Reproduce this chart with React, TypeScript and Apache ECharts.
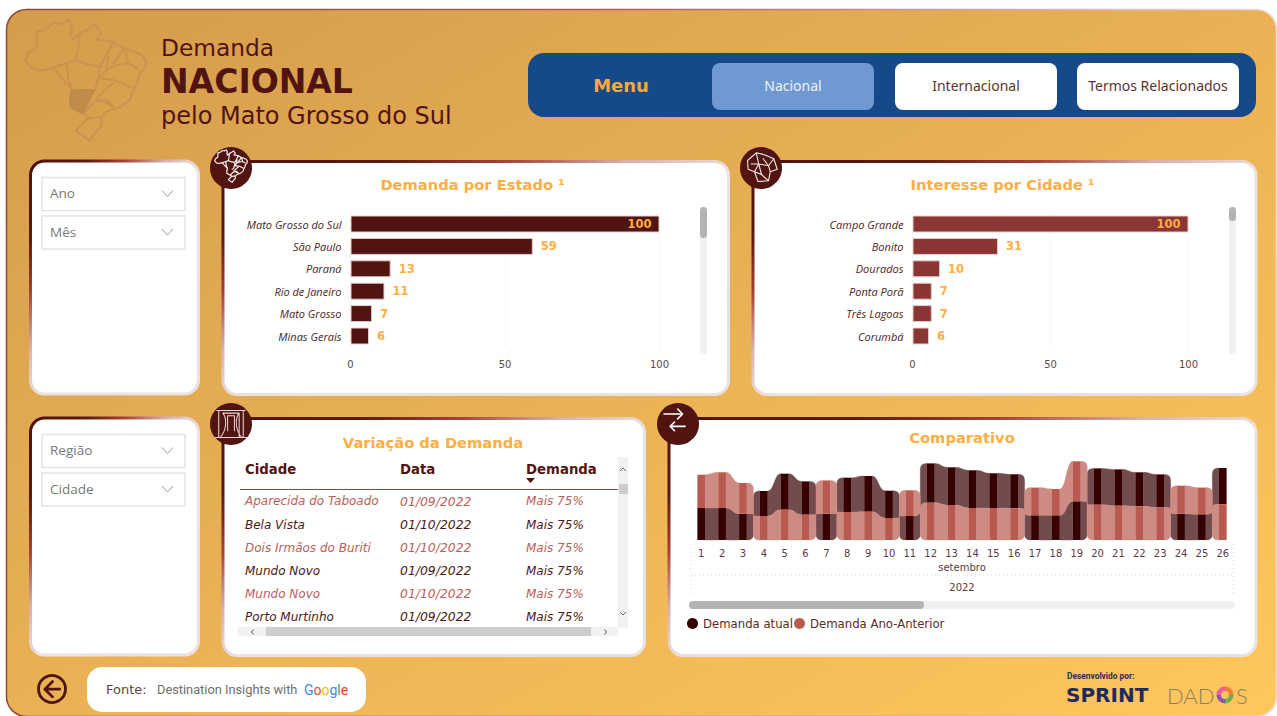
import React, { useEffect, useRef } from "react";
import * as echarts from "echarts";

const estados = ["Mato Grosso do Sul", "São Paulo", "Paraná", "Rio de Janeiro", "Mato Grosso", "Minas Gerais"];
const demandaEstado = [100, 59, 13, 11, 7, 6];
const cidades = ["Campo Grande", "Bonito", "Dourados", "Ponta Porã", "Três Lagoas", "Corumbá"];
const interesseCidade = [100, 31, 10, 7, 7, 6];

const dias = ["1","2","3","4","5","6","7","8","9","10","11","12","13","14","15","16","17","18","19","20","21","22","23","24","25","26"];
const demandaAtual = [32,32,26.3,25,36,33.3,26.3,34.3,35.7,27.3,24,39.3,37.7,37.7,34.7,34,24.7,24.7,38.7,36.3,36.3,34,33,26.3,25.7,36.3];
const demandaAnterior = [33.3,35.7,30.7,24,30.3,25.3,33.3,28,28.3,22,25.7,37.3,35,32,32,31.7,27.7,26.3,40,35.3,34.3,33.7,32.6,28,26.7,35.7];

const tabelaCidade = ["Aparecida do Taboado", "Bela Vista", "Dois Irmãos do Buriti", "Mundo Novo", "Mundo Novo", "Porto Murtinho"];
const tabelaData = ["01/09/2022", "01/10/2022", "01/10/2022", "01/09/2022", "01/10/2022", "01/09/2022"];
const tabelaDemanda = ["Mais 75%", "Mais 75%", "Mais 75%", "Mais 75%", "Mais 75%", "Mais 75%"];

const DARK = "#521410";
const ORANGE = "#ffae42";
const SANS = "DejaVu Sans";
const UI = "Open Sans";

const D_BRASIL =
  "M110 95L130 92L145 80L165 68L185 72L205 60L217 85L210 105L220 118L240 100L265 88L285 72L305 100L290 118L320 122L345 128L370 145L395 150L425 165L440 185L435 205L418 225L412 250L400 270L390 300L360 322L320 335L305 352L305 378L285 400L270 422L228 392L255 365L265 350L245 340L212 322L210 295L218 270L195 245L170 215L150 205L120 212L95 205L75 180L85 160L110 140L112 115Z" +
  "M240 100L235 140L228 180L265 195L300 200L318 165L340 128M228 180L200 190L155 205M200 190L205 235L218 268M300 200L295 235L285 270L270 275M325 170L318 210L300 235L340 240L370 250L390 262M318 210L350 195L385 190L412 205M340 190L375 145L385 190M340 250L320 265L290 295L340 320M250 340L285 305L320 300L340 320M255 360L300 350";
const D_MS = "M215 272L240 268L285 270L270 300L250 340L212 322L210 295Z";
const D_ESTADO =
  "M10 30L35 8L60 14L85 25L95 55L75 62L70 88L40 90L30 62L12 55ZM35 8L42 40L30 62M42 40L70 45L85 25M70 45L75 62M42 40L50 70L70 88M20 40L42 40M55 25L70 45M50 70L30 62";
const D_PORTAL =
  "M8 10H92M14 10V90M86 10V90M26 18H74V90M26 18C40 35 36 70 18 90M74 18C60 35 64 70 82 90M40 26V70M60 26V70M40 26H60M4 90H96";
const D_SETAS = "M0 8H30M22 0L30 8L22 16M34 28H10M17 21L10 28L17 35";
const D_VOLTAR = "M21 0L7 14L21 28M7 14H34";

echarts.graphic.registerShape("brasilMapa", echarts.graphic.extendPath(D_BRASIL, {}));
echarts.graphic.registerShape("msMapa", echarts.graphic.extendPath(D_MS, {}));
echarts.graphic.registerShape("estadoMapa", echarts.graphic.extendPath(D_ESTADO, {}));
echarts.graphic.registerShape("portalIcone", echarts.graphic.extendPath(D_PORTAL, {}));
echarts.graphic.registerShape("setasIcone", echarts.graphic.extendPath(D_SETAS, {}));
echarts.graphic.registerShape("voltarIcone", echarts.graphic.extendPath(D_VOLTAR, {}));

const cardStroke = {
  type: "linear", x: 0, y: 0, x2: 1, y2: 1,
  colorStops: [
    { offset: 0, color: "#4f120e" },
    { offset: 0.16, color: "#5a1a14" },
    { offset: 0.28, color: "#a5403c" },
    { offset: 0.4, color: "#d9b0ae" },
    { offset: 0.52, color: "#ece2e2" },
    { offset: 1, color: "#e8e2e2" },
  ],
};

function buildGraphics() {
  const els: any[] = [];
  let order = 0;
  const push = (e: any) => els.push({ silent: true, z: 0, z2: order++, ...e });
  const rect = (x: number, y: number, w: number, h: number, r: number, fill: any, stroke?: any, lineWidth = 0) =>
    push({ type: "rect", shape: { x, y, width: w, height: h, r }, style: { fill, stroke, lineWidth } });
  const text = (x: number, y: number, t: string, fontSize: number, fill: string, o: any = {}) =>
    push({
      type: "text",
      style: {
        x, y, text: t, fill, fontSize,
        fontFamily: o.family || SANS,
        fontWeight: o.weight || "normal",
        fontStyle: o.style || "normal",
        align: o.align || "left",
        verticalAlign: "middle",
      },
    });
  const poly = (points: number[][], stroke: string, lineWidth = 1) =>
    push({ type: "polyline", shape: { points }, style: { stroke, lineWidth, fill: "none" } });
  const line = (x1: number, y1: number, x2: number, y2: number, stroke: string, lineWidth = 1, lineDash?: number[]) =>
    push({ type: "line", shape: { x1, y1, x2, y2 }, style: { stroke, lineWidth, lineDash } });
  const shape = (type: string, x: number, y: number, s: number, style: any) =>
    push({ type, x, y, scaleX: s, scaleY: s, style: { lineJoin: "round", lineCap: "round", ...style } });

  // main panel
  rect(6.5, 9.5, 1270, 707, 20,
    { type: "linear", x: 0, y: 0, x2: 1, y2: 1, colorStops: [{ offset: 0, color: "#d49c4c" }, { offset: 1, color: "#ffc75c" }] },
    { type: "linear", x: 0, y: 0, x2: 1, y2: 0, colorStops: [{ offset: 0, color: "#8c4a3a" }, { offset: 0.5, color: "#b5605a" }, { offset: 1, color: "#f0dcdc" }] },
    1.5);

  // header
  shape("brasilMapa", 0, 0, 1 / 3, { fill: "none", stroke: "#c8944f", lineWidth: 6.5 });
  shape("msMapa", 0, 0, 1 / 3, { fill: "#c08a48", stroke: "#c08a48", lineWidth: 3 });
  text(161, 47, "Demanda", 23.3, DARK);
  text(161, 81.5, "NACIONAL", 33, DARK, { weight: "bold" });
  text(161, 116, "pelo Mato Grosso do Sul", 24, DARK);

  // menu
  rect(528, 53, 728, 64, 16, "#15498a");
  text(621, 85.5, "Menu", 18, "#f9a83b", { weight: "bold", align: "center" });
  rect(712, 63, 162, 47, 8, "#6f99d2");
  rect(895, 63, 162, 47, 8, "#ffffff");
  rect(1077, 63, 162, 47, 8, "#ffffff");
  text(793, 85.5, "Nacional", 14, "#eef3fb", { family: "Noto Sans", align: "center" });
  text(976, 85.5, "Internacional", 14, "#5b3430", { family: "Noto Sans", align: "center" });
  text(1158, 85.5, "Termos Relacionados", 14, "#5b3430", { family: "Noto Sans", align: "center" });

  // filter cards and slicers
  const slicer = (y: number, label: string) => {
    rect(42, y, 143, 33, 0, "#ffffff", "#e4e4e4", 1.5);
    text(50, y + 15.5, label, 13.5, "#777777", { family: UI });
    poly([[162, y + 13], [167.5, y + 19], [173, y + 13]], "#9a9a9a", 1);
  };
  rect(30.5, 161, 168, 233, 14, "#ffffff", cardStroke, 3);
  slicer(177.5, "Ano");
  slicer(216, "Mês");
  rect(30.5, 418, 168, 237, 14, "#ffffff", cardStroke, 3);
  slicer(434.5, "Região");
  slicer(473, "Cidade");

  // chart cards
  rect(223, 161.5, 505.5, 233, 14, "#ffffff", cardStroke, 3);
  rect(753, 161.5, 503, 233, 14, "#ffffff", cardStroke, 3);
  rect(223, 418.5, 421.5, 237, 14, "#ffffff", cardStroke, 3);
  rect(669, 418.5, 587, 237, 14, "#ffffff", cardStroke, 3);

  // icons
  const disc = (cx: number, cy: number) =>
    push({ type: "circle", shape: { cx, cy, r: 21 }, style: { fill: DARK } });
  disc(231, 168);
  shape("brasilMapa", 231 - 257 * 0.09, 166 - 240 * 0.09, 0.09, { fill: "none", stroke: "#f7efee", lineWidth: 13 });
  disc(761, 168);
  shape("estadoMapa", 744, 150, 0.35, { fill: "none", stroke: "#f7efee", lineWidth: 3 });
  disc(231, 424);
  shape("portalIcone", 214, 407, 0.34, { fill: "none", stroke: "#e8d8d6", lineWidth: 3 });
  disc(678, 424);
  shape("setasIcone", 664, 409, 0.62, { fill: "none", stroke: "#ffffff", lineWidth: 2.6 });

  // titles
  text(472.5, 184.5, "Demanda por Estado ¹", 14.7, ORANGE, { weight: "bold", align: "center" });
  text(1002.5, 184.5, "Interesse por Cidade ¹", 14.7, ORANGE, { weight: "bold", align: "center" });
  text(433, 442.5, "Variação da Demanda", 14.7, ORANGE, { weight: "bold", align: "center" });
  text(962, 437.5, "Comparativo", 14.7, ORANGE, { weight: "bold", align: "center" });

  // vertical scrollbars of the bar visuals
  rect(700, 207, 7, 147, 3.5, "#f0f0f0");
  rect(700, 207, 7, 31, 3.5, "#b3b3b3");
  rect(1229, 207, 7, 147, 3.5, "#f0f0f0");
  rect(1229, 207, 7, 14, 3.5, "#b3b3b3");

  // table
  const cols = [245, 400, 526];
  ["Cidade", "Data", "Demanda"].forEach((h, i) => text(cols[i], 469, h, 13.3, DARK, { weight: "bold" }));
  push({ type: "polygon", shape: { points: [[526, 478], [535, 478], [530.5, 483]] }, style: { fill: DARK } });
  line(240, 489.5, 618, 489.5, "#7b4a47", 1);
  const rowY = [501, 524.5, 547.5, 570.5, 593.5, 616.5];
  rowY.forEach((y, i) => {
    const c = i % 2 === 0 ? "#b9605a" : "#4a1a18";
    text(cols[0], y, tabelaCidade[i], 12, c, { style: "italic" });
    text(cols[1], y, tabelaData[i], 12.4, c, { style: "italic" });
    text(cols[2], y, tabelaDemanda[i], 12, c, { style: "italic" });
  });
  rect(618, 457, 10, 171, 0, "#f1f1f1");
  rect(619, 484, 9, 10, 0, "#cdcdcd");
  poly([[620, 471], [623, 468], [626, 471]], "#666666", 1);
  poly([[620, 612], [623, 615], [626, 612]], "#666666", 1);
  rect(238, 627, 380, 9, 0, "#f1f1f1");
  rect(266, 627, 325, 9, 0, "#cdcdcd");
  poly([[254, 629.5], [251, 632], [254, 634.5]], "#666666", 1);
  poly([[604, 629.5], [607, 632], [604, 634.5]], "#666666", 1);

  // ribbon hierarchy decorations
  const dot = [1, 3];
  line(691, 544, 691, 594, "#d6d6d6", 1, dot);
  line(1233, 544, 1233, 594, "#d6d6d6", 1, dot);
  line(691, 575, 1233, 575, "#d6d6d6", 1, dot);
  text(962, 567, "setembro", 10, "#5b3a3a", { align: "center" });
  text(962, 587, "2022", 10, "#5b3a3a", { align: "center" });
  rect(689, 601, 546, 8, 4, "#f0f0f0");
  rect(689, 601, 235, 8, 4, "#b3b3b3");

  // footer
  push({ type: "circle", shape: { cx: 52, cy: 689, r: 13.5 }, style: { fill: "none", stroke: DARK, lineWidth: 2.8 } });
  shape("voltarIcone", 41, 681.5, 0.55, { fill: "none", stroke: DARK, lineWidth: 5 });
  rect(87, 667, 279, 45, 15, "#ffffff");
  text(106, 689, "Fonte:", 13, "#6b3c3a");
  text(157, 689, "Destination Insights with", 12.8, "#6e6e6e", { family: "Roboto" });
  push({
    type: "text",
    style: {
      x: 304, y: 690, verticalAlign: "middle", align: "left",
      fontFamily: "Roboto", fontSize: 14,
      text: "{a|G}{b|o}{c|o}{a|g}{d|l}{b|e}",
      rich: {
        a: { fill: "#4285f4", fontFamily: "Roboto", fontSize: 14 },
        b: { fill: "#ea4335", fontFamily: "Roboto", fontSize: 14 },
        c: { fill: "#fbbc05", fontFamily: "Roboto", fontSize: 14 },
        d: { fill: "#34a853", fontFamily: "Roboto", fontSize: 14 },
      },
    },
  });
  text(1067, 676, "Desenvolvido por:", 8.4, "#2a2f5e", { family: "Roboto", weight: "bold" });
  text(1066, 695, "SPRINT", 20, "#1f2a5e", { weight: "bold" });
  text(1167, 695, "DAD", 22, "#8f7f60", { family: "Lato", weight: 300 });
  text(1236, 695, "S", 22, "#8f7f60", { family: "Lato", weight: 300 });
  const seg = ["#ef5aa0", "#f08030", "#6ab04c", "#8e54b8"];
  seg.forEach((c, i) =>
    push({
      type: "sector",
      shape: { cx: 1225, cy: 695, r: 8.5, r0: 4, startAngle: (i * Math.PI) / 2 + Math.PI, endAngle: ((i + 1) * Math.PI) / 2 + Math.PI },
      style: { fill: c },
    })
  );
  return els;
}

function barItem(v: number) {
  return { value: v, label: { position: v >= 100 ? "insideRight" : "right", distance: 8 } };
}

function barParts(gridIndex: number, names: string[], values: number[], color: string) {
  const xAxis = {
    type: "value", gridIndex, min: 0, max: 100, interval: 50, z: 1,
    axisLine: { show: false }, axisTick: { show: false },
    axisLabel: { color: "#5a4a4a", fontFamily: SANS, fontSize: 10, margin: 12 },
    splitLine: { show: true, lineStyle: { color: "#dddddd", type: [1, 3] } },
  };
  const yAxis = {
    type: "category", gridIndex, inverse: true, data: names, z: 1,
    axisLine: { show: false }, axisTick: { show: false },
    axisLabel: { color: "#4a2422", fontFamily: UI, fontStyle: "italic", fontSize: 11, margin: 9 },
  };
  const series = {
    type: "bar", xAxisIndex: gridIndex, yAxisIndex: gridIndex,
    barWidth: 17,
    data: values.map(barItem),
    itemStyle: { color, borderColor: "#e3cfcd", borderWidth: 1 },
    label: { show: true, color: ORANGE, fontFamily: SANS, fontWeight: "bold", fontSize: 11.5 },
  };
  return { xAxis, yAxis, series };
}

// half of a crossing ribbon's edge: along the level y from x to the waist column, then to the waist
function edgeTo(x: number, y: number, xm: number, yw: number) {
  const d = yw - y;
  const r = Math.min(6, Math.abs(d), Math.abs(xm - x));
  const s = d >= 0 ? 1 : -1;
  const hx = xm >= x ? 1 : -1;
  return `L${xm - hx * r} ${y}Q${xm} ${y} ${xm} ${y + s * r}L${xm} ${yw}`;
}
function edgeFrom(xm: number, yw: number, x: number, y: number) {
  const d = yw - y;
  const r = Math.min(6, Math.abs(d), Math.abs(xm - x));
  const s = d >= 0 ? 1 : -1;
  const hx = xm >= x ? 1 : -1;
  return `L${xm} ${y + s * r}Q${xm} ${y} ${xm - hx * r} ${y}L${x} ${y}`;
}

// ribbon path between two consecutive days
function ribbonPath(x1: number, x2: number, t1: number, b1: number, t2: number, b2: number, ym: number, cross: boolean) {
  const xm = (x1 + x2) / 2;
  if (!cross) {
    return `M${x1} ${t1}C${xm} ${t1} ${xm} ${t2} ${x2} ${t2}L${x2} ${b2}C${xm} ${b2} ${xm} ${b1} ${x1} ${b1}Z`;
  }
  const w = 0.7;
  return (
    `M${x1} ${t1}` + edgeTo(x1, t1, xm, ym - w) + edgeFrom(xm, ym - w, x2, t2) +
    `L${x2} ${b2}` + edgeTo(x2, b2, xm, ym + w) + edgeFrom(xm, ym + w, x1, b1) + "Z"
  );
}

function ribbonSeries(name: string, own: number[], other: number[], barColor: string, ribbonColor: string) {
  return {
    type: "custom", name, xAxisIndex: 2, yAxisIndex: 2,
    itemStyle: { color: barColor },
    data: own.map((v, i) => [i, v]),
    encode: { x: 0, y: 1 },
    clip: false,
    renderItem: (params: any, api: any) => {
      const i = params.dataIndex;
      const band = api.size([1, 0])[0];
      const bw = band * 0.37;
      const span = (k: number) => {
        const lower = own[k] < other[k];
        const bottomVal = lower ? 0 : other[k];
        const topVal = bottomVal + own[k];
        const cx = api.coord([k, 0])[0];
        return { lower, cx, t: api.coord([k, topVal])[1], b: api.coord([k, bottomVal])[1], mid: api.coord([k, Math.min(own[k], other[k])])[1] };
      };
      const a = span(i);
      const children: any[] = [
        { type: "rect", z2: 3, shape: { x: a.cx - bw / 2, y: a.t, width: bw, height: a.b - a.t }, style: { fill: barColor } },
      ];
      if (i < own.length - 1) {
        const c = span(i + 1);
        const d = ribbonPath(a.cx + bw / 2, c.cx - bw / 2, a.t, a.b, c.t, c.b, (a.mid + c.mid) / 2, a.lower !== c.lower);
        children.unshift({ type: "path", z2: 1, shape: { pathData: d }, style: { fill: ribbonColor, stroke: ribbonColor, lineWidth: 0.4 } });
      }
      return { type: "group", children };
    },
  };
}

export default function App() {
  const ref = useRef<HTMLDivElement>(null);
  useEffect(() => {
    document.body.style.margin = "0";
    const chart = echarts.init(ref.current!, undefined, { renderer: "svg" });
    const a = barParts(0, estados, demandaEstado, DARK);
    const b = barParts(1, cidades, interesseCidade, "#8b3535");
    chart.setOption({
      animation: false,
      graphic: { elements: buildGraphics() },
      grid: [
        { left: 350.5, top: 212.8, width: 309, height: 134.4 },
        { left: 912.5, top: 212.8, width: 276, height: 134.4 },
        { left: 690.8, top: 460, width: 542.4, height: 80 },
      ],
      xAxis: [
        a.xAxis,
        b.xAxis,
        {
          type: "category", gridIndex: 2, data: dias, z: 1,
          axisLine: { show: false }, axisTick: { show: false },
          axisLabel: { color: "#5b3a4a", fontFamily: SANS, fontSize: 10, margin: 8, interval: 0 },
        },
      ],
      yAxis: [
        a.yAxis,
        b.yAxis,
        { type: "value", gridIndex: 2, min: 0, max: 80, show: false },
      ],
      legend: {
        left: 687, top: 617.5, padding: 0, itemGap: 1, itemWidth: 11, itemHeight: 11, icon: "circle",
        data: ["Demanda atual", "Demanda Ano-Anterior"],
        textStyle: { color: "#5a2a2a", fontFamily: SANS, fontSize: 11.7 },
      },
      series: [
        a.series,
        b.series,
        ribbonSeries("Demanda atual", demandaAtual, demandaAnterior, "#360000", "#724c4c"),
        ribbonSeries("Demanda Ano-Anterior", demandaAnterior, demandaAtual, "#b95a50", "#ce8b84"),
      ],
    });
    return () => chart.dispose();
  }, []);
  return <div ref={ref} style={{ width: 1277, height: 716 }} />;
}
